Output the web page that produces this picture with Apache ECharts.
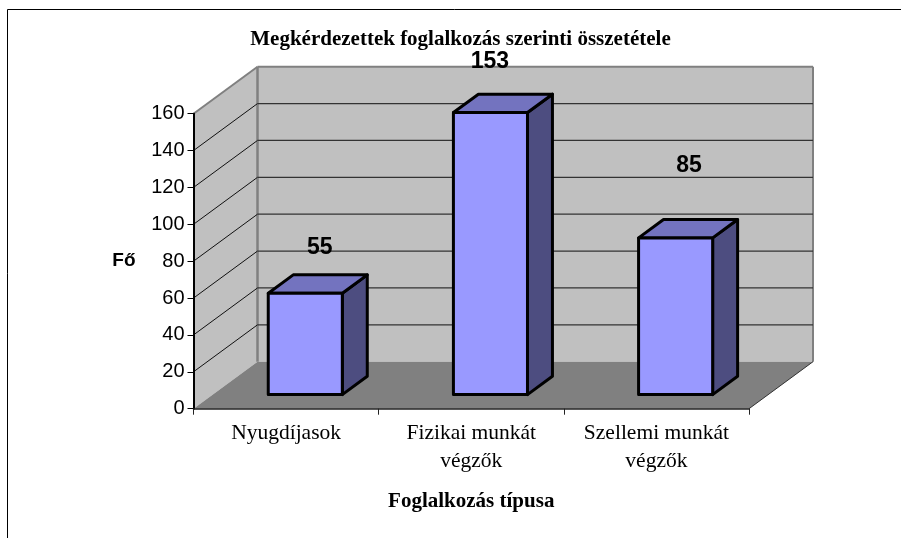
<!DOCTYPE html>
<html>
<head>
<meta charset="utf-8">
<style>
    html, body { margin: 0; padding: 0; background: #fff; }
    #main { width: 901px; height: 538px; }
</style>
<script src="https://cdn.jsdelivr.net/npm/echarts@6/dist/echarts.min.js"></script>
</head>
<body>
<div id="main"></div>
<script>
const chartTitle = 'Megkérdezettek foglalkozás szerinti összetétele';
const xAxisName = 'Foglalkozás típusa';
const yAxisName = 'Fő';
const categories = ['Nyugdíjasok', 'Fizikai munkát\nvégzők', 'Szellemi munkát\nvégzők'];
const seriesValues = [55, 153, 85];
const gridValues = [20, 40, 60, 80, 100, 120, 140, 160];

// fake 3d depth, in px
const depthX = 64;
const depthY = 47;
const barFront = 0.3;
const barBack = 0.69;
// labels were moved by hand in the original, so each one has its own offset
const labelShift = [[14.5, -45.5], [-0.5, -51], [13.5, -72.5]];

const serif = '"Liberation Serif", "Times New Roman", serif';
const sans = '"Liberation Sans", Arial, sans-serif';

function poly(points, fill, stroke, lineWidth) {
    return {
        type: 'polygon',
        shape: { points: points },
        style: { fill: fill, stroke: stroke || null, lineWidth: lineWidth || 0, lineJoin: 'round' }
    };
}

function line(x1, y1, x2, y2, color, width) {
    return {
        type: 'line',
        shape: { x1: x1, y1: y1, x2: x2, y2: y2 },
        style: { stroke: color, lineWidth: width }
    };
}

function plotBox(api) {
    const band = api.size([1, 0])[0];
    const first = api.coord([0, 0]);
    const last = api.coord([categories.length - 1, 160]);
    return { left: first[0] - band / 2, right: last[0] + band / 2, bottom: first[1], top: last[1] };
}

function renderWalls(params, api) {
    const b = plotBox(api);
    return {
        type: 'group',
        children: [
            poly([[b.left, b.top], [b.left + depthX, b.top - depthY], [b.left + depthX, b.bottom - depthY], [b.left, b.bottom]], '#c0c0c0'),
            poly([[b.left + depthX, b.top - depthY], [b.right + depthX, b.top - depthY], [b.right + depthX, b.bottom - depthY], [b.left + depthX, b.bottom - depthY]], '#c0c0c0'),
            poly([[b.left, b.bottom], [b.left + depthX, b.bottom - depthY], [b.right + depthX, b.bottom - depthY], [b.right, b.bottom]], '#808080'),
            line(b.left, b.top, b.left + depthX, b.top - depthY, '#808080', 2),
            line(b.left + depthX, b.top - depthY, b.right + depthX, b.top - depthY, '#808080', 2),
            line(b.left + depthX, b.top - depthY, b.left + depthX, b.bottom - depthY, '#808080', 2.5),
            line(b.right + depthX, b.top - depthY, b.right + depthX, b.bottom - depthY, '#808080', 2),
            line(b.right, b.bottom, b.right + depthX, b.bottom - depthY, '#333', 1)
        ]
    };
}

function renderGrid(params, api) {
    const b = plotBox(api);
    const y = api.coord([0, api.value(0)])[1];
    const isTop = api.value(0) === 160;
    return {
        type: 'group',
        children: isTop ? [] : [
            line(b.left, y, b.left + depthX, y - depthY, '#111', 1),
            line(b.left + depthX, y - depthY, b.right + depthX, y - depthY, '#333', 1.2)
        ]
    };
}

function renderBar(params, api) {
    const i = api.value(0);
    const val = api.value(1);
    const c = api.coord([i, val]);
    const base = api.coord([i, 0]);
    const half = api.size([1, 0])[0] * 0.2;
    const fx = depthX * barFront, fy = depthY * barFront;
    const bx = depthX * barBack, by = depthY * barBack;
    const x0 = c[0] - half + fx, x1 = c[0] + half + fx;
    const top = c[1] - fy, bottom = base[1] - fy;
    const dx = bx - fx, dy = by - fy;
    const shift = labelShift[i];
    return {
        type: 'group',
        children: [
            poly([[x1, top], [x1 + dx, top - dy], [x1 + dx, bottom - dy], [x1, bottom]], '#4d4d80', '#000', 3),
            poly([[x0, top], [x0 + dx, top - dy], [x1 + dx, top - dy], [x1, top]], '#7373bf', '#000', 3),
            poly([[x0, top], [x1, top], [x1, bottom], [x0, bottom]], '#9999ff', '#000', 3),
            {
                type: 'text',
                x: (x0 + x1) / 2 + shift[0],
                y: top + shift[1],
                style: {
                    text: String(val),
                    fill: '#000',
                    font: 'bold 23px ' + sans,
                    textAlign: 'center',
                    textVerticalAlign: 'middle'
                }
            }
        ]
    };
}

const chart = echarts.init(document.getElementById('main'));
chart.setOption({
    animation: false,
    backgroundColor: '#fff',
    title: {
        text: chartTitle,
        left: 455.5,
        top: 24,
        textAlign: 'center',
        textStyle: { fontFamily: serif, fontWeight: 'bold', fontSize: 21, color: '#000' }
    },
    graphic: [{
        type: 'polyline',
        shape: { points: [[7.5, 538], [7.5, 9.5], [901, 9.5]] },
        style: { stroke: '#000', lineWidth: 1, fill: null }
    }],
    grid: { left: 193.5, right: 152, top: 113.7, bottom: 129.3 },
    xAxis: {
        type: 'category',
        data: categories,
        z: 3,
        name: xAxisName,
        nameLocation: 'middle',
        nameGap: 82,
        nameTextStyle: { fontFamily: serif, fontWeight: 'bold', fontSize: 21, color: '#000' },
        axisLine: { show: true, lineStyle: { color: '#222', width: 1.5 } },
        axisTick: { show: true, length: 6, alignWithLabel: false, lineStyle: { color: '#222', width: 1 } },
        axisLabel: { margin: 11, fontFamily: serif, fontSize: 21.5, lineHeight: 28, color: '#000', interval: 0 }
    },
    yAxis: {
        type: 'value',
        min: 0,
        max: 160,
        interval: 20,
        z: 3,
        name: yAxisName,
        nameLocation: 'middle',
        nameRotate: 0,
        nameGap: 58,
        nameTextStyle: { fontFamily: sans, fontWeight: 'bold', fontSize: 19, color: '#000' },
        axisLine: { show: true, onZero: false, lineStyle: { color: '#000', width: 2 } },
        axisTick: { show: true, length: 6, lineStyle: { color: '#000', width: 1 } },
        axisLabel: { margin: 9, padding: [5, 0, 0, 0], fontFamily: sans, fontSize: 20, color: '#000' },
        splitLine: { show: false }
    },
    series: [
        { type: 'custom', z: 1, data: [[0, 0]], renderItem: renderWalls, silent: true },
        { type: 'custom', z: 2, data: gridValues.map(v => [v]), encode: { y: 0 }, renderItem: renderGrid, silent: true },
        {
            type: 'custom',
            z: 4,
            data: seriesValues.map((v, i) => [i, v]),
            encode: { x: 0, y: 1 },
            renderItem: renderBar
        }
    ]
});
</script>
</body>
</html>
